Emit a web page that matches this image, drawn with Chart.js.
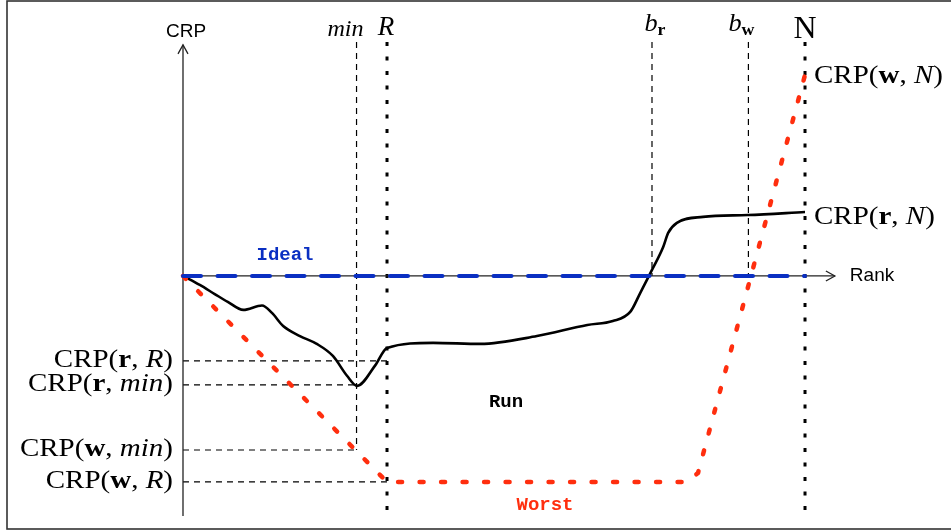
<!DOCTYPE html>
<html>
<head>
<meta charset="utf-8">
<title>CRP curves</title>
<script src="https://cdn.jsdelivr.net/npm/chart.js@4.4.1/dist/chart.umd.min.js"></script>
<style>
  body { margin: 0; background: #fff; }
  #crpChart { display: block; }
</style>
</head>
<body>
<canvas id="crpChart" width="951" height="531"></canvas>
<script>
// rank positions of the vertical markers (N = 100)
const markerNames = ['min', 'R', 'b_r', 'b_w', 'N'];
const markerRank = [27.9, 32.8, 75.4, 90.9, 100];

// CRP levels shown as labels
const levelNames = ['CRP(r,R)', 'CRP(r,min)', 'CRP(w,min)', 'CRP(w,R)', 'CRP(r,N)', 'CRP(w,N)'];
const levelValue = [-42.3, -54.2, -86.6, -102.5, 31.8, 100];

// Run curve
const runRank = [0, 2.7, 5.1, 7.2, 9.7, 12.7, 14.3, 16.1, 18.8, 21.5, 24.1, 26.4, 28.0, 30.9, 32.8,
                 40.2, 47.8, 56.9, 65.0, 69.1, 71.9, 73.5, 75.4, 77.2, 78.0, 79.4, 83.6, 90.8, 100];
const runCRP = [0, -4.5, -9.0, -12.9, -16.9, -14.7, -18.4, -24.9, -29.9, -33.8, -39.8, -49.8, -54.7, -44.5, -35.8,
                -33.3, -33.8, -29.9, -24.4, -22.4, -17.9, -8.5, 3.0, 14.4, 21.4, 26.4, 29.4, 30.3, 31.8];

// Worst curve
const worstRank = [0, 32.8, 81.0, 82.8, 100];
const worstCRP = [0, -102.5, -102.5, -98.0, 100];

// Ideal curve
const idealRank = [0, 100];
const idealCRP = [0, 0];

// axis extents
const xAxisEnd = 104.8;
const yAxisTop = 115.0;
const yAxisBottom = -119.4;
const lineTop = 116.4;
const lineBottom = -120.4;

function pts(xs, ys) {
    return xs.map((x, i) => ({ x: x, y: ys[i] }));
}

const rankOf = name => markerRank[markerNames.indexOf(name)];
const crpOf = name => levelValue[levelNames.indexOf(name)];

function seg(x0, y0, x1, y1, style) {
    return Object.assign({
        data: [{ x: x0, y: y0 }, { x: x1, y: y1 }],
        showLine: true, pointRadius: 0, tension: 0,
        borderColor: '#000', borderWidth: 1.2, borderDash: [6, 5]
    }, style || {});
}

const dotted = { borderWidth: 3, borderDash: [4, 10.5] };
const dashed = { borderWidth: 1.2, borderDash: [6, 5] };

const datasets = [
    {
        label: 'Ideal',
        data: pts(idealRank, idealCRP),
        showLine: true, pointRadius: 0,
        borderColor: '#0a2fc2', borderWidth: 4, borderDash: [18, 16.5], borderCapStyle: 'round'
    },
    {
        label: 'Worst',
        data: pts(worstRank, worstCRP),
        showLine: true, pointRadius: 0, tension: 0,
        borderColor: '#ff2e0e', borderWidth: 4.5, borderDash: [4, 17.5], borderCapStyle: 'round'
    },
    {
        label: 'Run',
        data: pts(runRank, runCRP),
        showLine: true, pointRadius: 0,
        cubicInterpolationMode: 'monotone',
        borderColor: '#000', borderWidth: 2.6
    },
    // axes
    seg(0, 0, xAxisEnd, 0, { borderColor: '#222', borderWidth: 1.3, borderDash: [] }),
    seg(0, yAxisBottom, 0, yAxisTop, { borderColor: '#222', borderWidth: 1.3, borderDash: [] }),
    // vertical markers
    seg(rankOf('min'), lineTop, rankOf('min'), crpOf('CRP(w,min)'), dashed),
    seg(rankOf('R'), lineTop, rankOf('R'), lineBottom, dotted),
    seg(rankOf('b_r'), lineTop, rankOf('b_r'), 0, dashed),
    seg(rankOf('b_w'), lineTop, rankOf('b_w'), 0, dashed),
    seg(rankOf('N'), lineTop, rankOf('N'), lineBottom, dotted),
    // horizontal guides
    seg(0, crpOf('CRP(r,R)'), rankOf('R'), crpOf('CRP(r,R)'), dashed),
    seg(0, crpOf('CRP(r,min)'), rankOf('min'), crpOf('CRP(r,min)'), dashed),
    seg(0, crpOf('CRP(w,min)'), rankOf('min'), crpOf('CRP(w,min)'), dashed),
    seg(0, crpOf('CRP(w,R)'), rankOf('R'), crpOf('CRP(w,R)'), dashed)
];

const SERIF = '"Liberation Serif", "Times New Roman", serif';
const STRETCH = 1.16;

// draw text made of several font pieces (optional y shift), stretched a little to look like CM
function drawRich(ctx, parts, x, y, align, stretch) {
    let w = 0;
    parts.forEach(p => { ctx.font = p[1]; w += ctx.measureText(p[0]).width; });
    ctx.save();
    ctx.translate(x, y);
    ctx.scale(stretch, 1);
    let cx = align === 'right' ? -w : (align === 'center' ? -w / 2 : 0);
    ctx.textAlign = 'left';
    ctx.textBaseline = 'alphabetic';
    parts.forEach(p => {
        ctx.font = p[1];
        ctx.fillText(p[0], cx, p[2] || 0);
        cx += ctx.measureText(p[0]).width;
    });
    ctx.restore();
}

function crpLabel(who, where) {
    const n = '25px ' + SERIF;
    return [['CRP(', n], [who, 'bold 25px ' + SERIF], [', ', n], [where, 'italic 25px ' + SERIF], [')', n]];
}

const decorPlugin = {
    id: 'decor',
    beforeDraw(chart) {
        const ctx = chart.ctx;
        ctx.save();
        ctx.strokeStyle = '#333';
        ctx.lineWidth = 1.6;
        ctx.strokeRect(7, 1, 1000, 528);
        ctx.restore();
    },
    afterDraw(chart) {
        const ctx = chart.ctx;
        const xs = chart.scales.x, ys = chart.scales.y;
        const px = v => xs.getPixelForValue(v);
        const py = v => ys.getPixelForValue(v);
        ctx.save();
        ctx.fillStyle = '#000';

        // arrow heads
        ctx.strokeStyle = '#222';
        ctx.lineWidth = 1.3;
        ctx.beginPath();
        const ax = px(xAxisEnd), ay = py(0);
        ctx.moveTo(ax - 9, ay - 5); ctx.lineTo(ax, ay); ctx.lineTo(ax - 9, ay + 5);
        const bx = px(0), by = py(yAxisTop);
        ctx.moveTo(bx - 5, by + 9); ctx.lineTo(bx, by); ctx.lineTo(bx + 5, by + 9);
        ctx.stroke();

        // axis titles
        ctx.font = '19px "Liberation Sans", Arial, sans-serif';
        ctx.textAlign = 'center';
        ctx.fillText('CRP', px(0) + 3, 37);
        ctx.textAlign = 'left';
        ctx.fillText('Rank', ax + 15, ay + 5);

        // marker names on top
        drawRich(ctx, [['min', 'italic 23px ' + SERIF]], px(rankOf('min')) - 11, 36, 'center', 1.05);
        drawRich(ctx, [['R', 'italic 27px ' + SERIF]], px(rankOf('R')) - 1, 35, 'center', 1);
        drawRich(ctx, [['b', 'italic 25px ' + SERIF], ['r', 'bold 17px ' + SERIF, 4]], px(rankOf('b_r')) + 3, 31, 'center', 1.05);
        drawRich(ctx, [['b', 'italic 25px ' + SERIF], ['w', 'bold 17px ' + SERIF, 4]], px(rankOf('b_w')) - 7, 31, 'center', 1.05);
        drawRich(ctx, [['N', '32px ' + SERIF]], px(rankOf('N')), 38, 'center', 1);

        // level labels
        const lx = px(0) - 10;
        drawRich(ctx, crpLabel('r', 'R'), lx, py(crpOf('CRP(r,R)')) + 6, 'right', STRETCH);
        drawRich(ctx, crpLabel('r', 'min'), lx, py(crpOf('CRP(r,min)')) + 6, 'right', STRETCH);
        drawRich(ctx, crpLabel('w', 'min'), lx, py(crpOf('CRP(w,min)')) + 6, 'right', STRETCH);
        drawRich(ctx, crpLabel('w', 'R'), lx, py(crpOf('CRP(w,R)')) + 6, 'right', STRETCH);
        const rx = px(rankOf('N')) + 9;
        drawRich(ctx, crpLabel('w', 'N'), rx, py(crpOf('CRP(w,N)')) + 8, 'left', STRETCH);
        drawRich(ctx, crpLabel('r', 'N'), rx, py(crpOf('CRP(r,N)')) + 12, 'left', STRETCH);

        // curve names
        ctx.font = 'bold 19px "Liberation Mono", "Courier New", monospace';
        ctx.textAlign = 'center';
        ctx.fillStyle = '#0a2fc2';
        ctx.fillText('Ideal', 285, 260);
        ctx.fillStyle = '#000';
        ctx.fillText('Run', 506, 407);
        ctx.fillStyle = '#ff2e0e';
        ctx.fillText('Worst', 545, 510);
        ctx.restore();
    }
};

const ctx = document.getElementById('crpChart').getContext('2d');
const crpChart = new Chart(ctx, {
    type: 'scatter',
    data: { datasets: datasets },
    options: {
        responsive: false,
        animation: false,
        layout: { padding: 0 },
        scales: {
            x: { type: 'linear', display: false, min: -29.42, max: 123.47 },
            y: { type: 'linear', display: false, min: -126.9, max: 137.3 }
        },
        plugins: {
            legend: { display: false },
            tooltip: { enabled: false }
        }
    },
    plugins: [decorPlugin]
});
</script>
</body>
</html>
